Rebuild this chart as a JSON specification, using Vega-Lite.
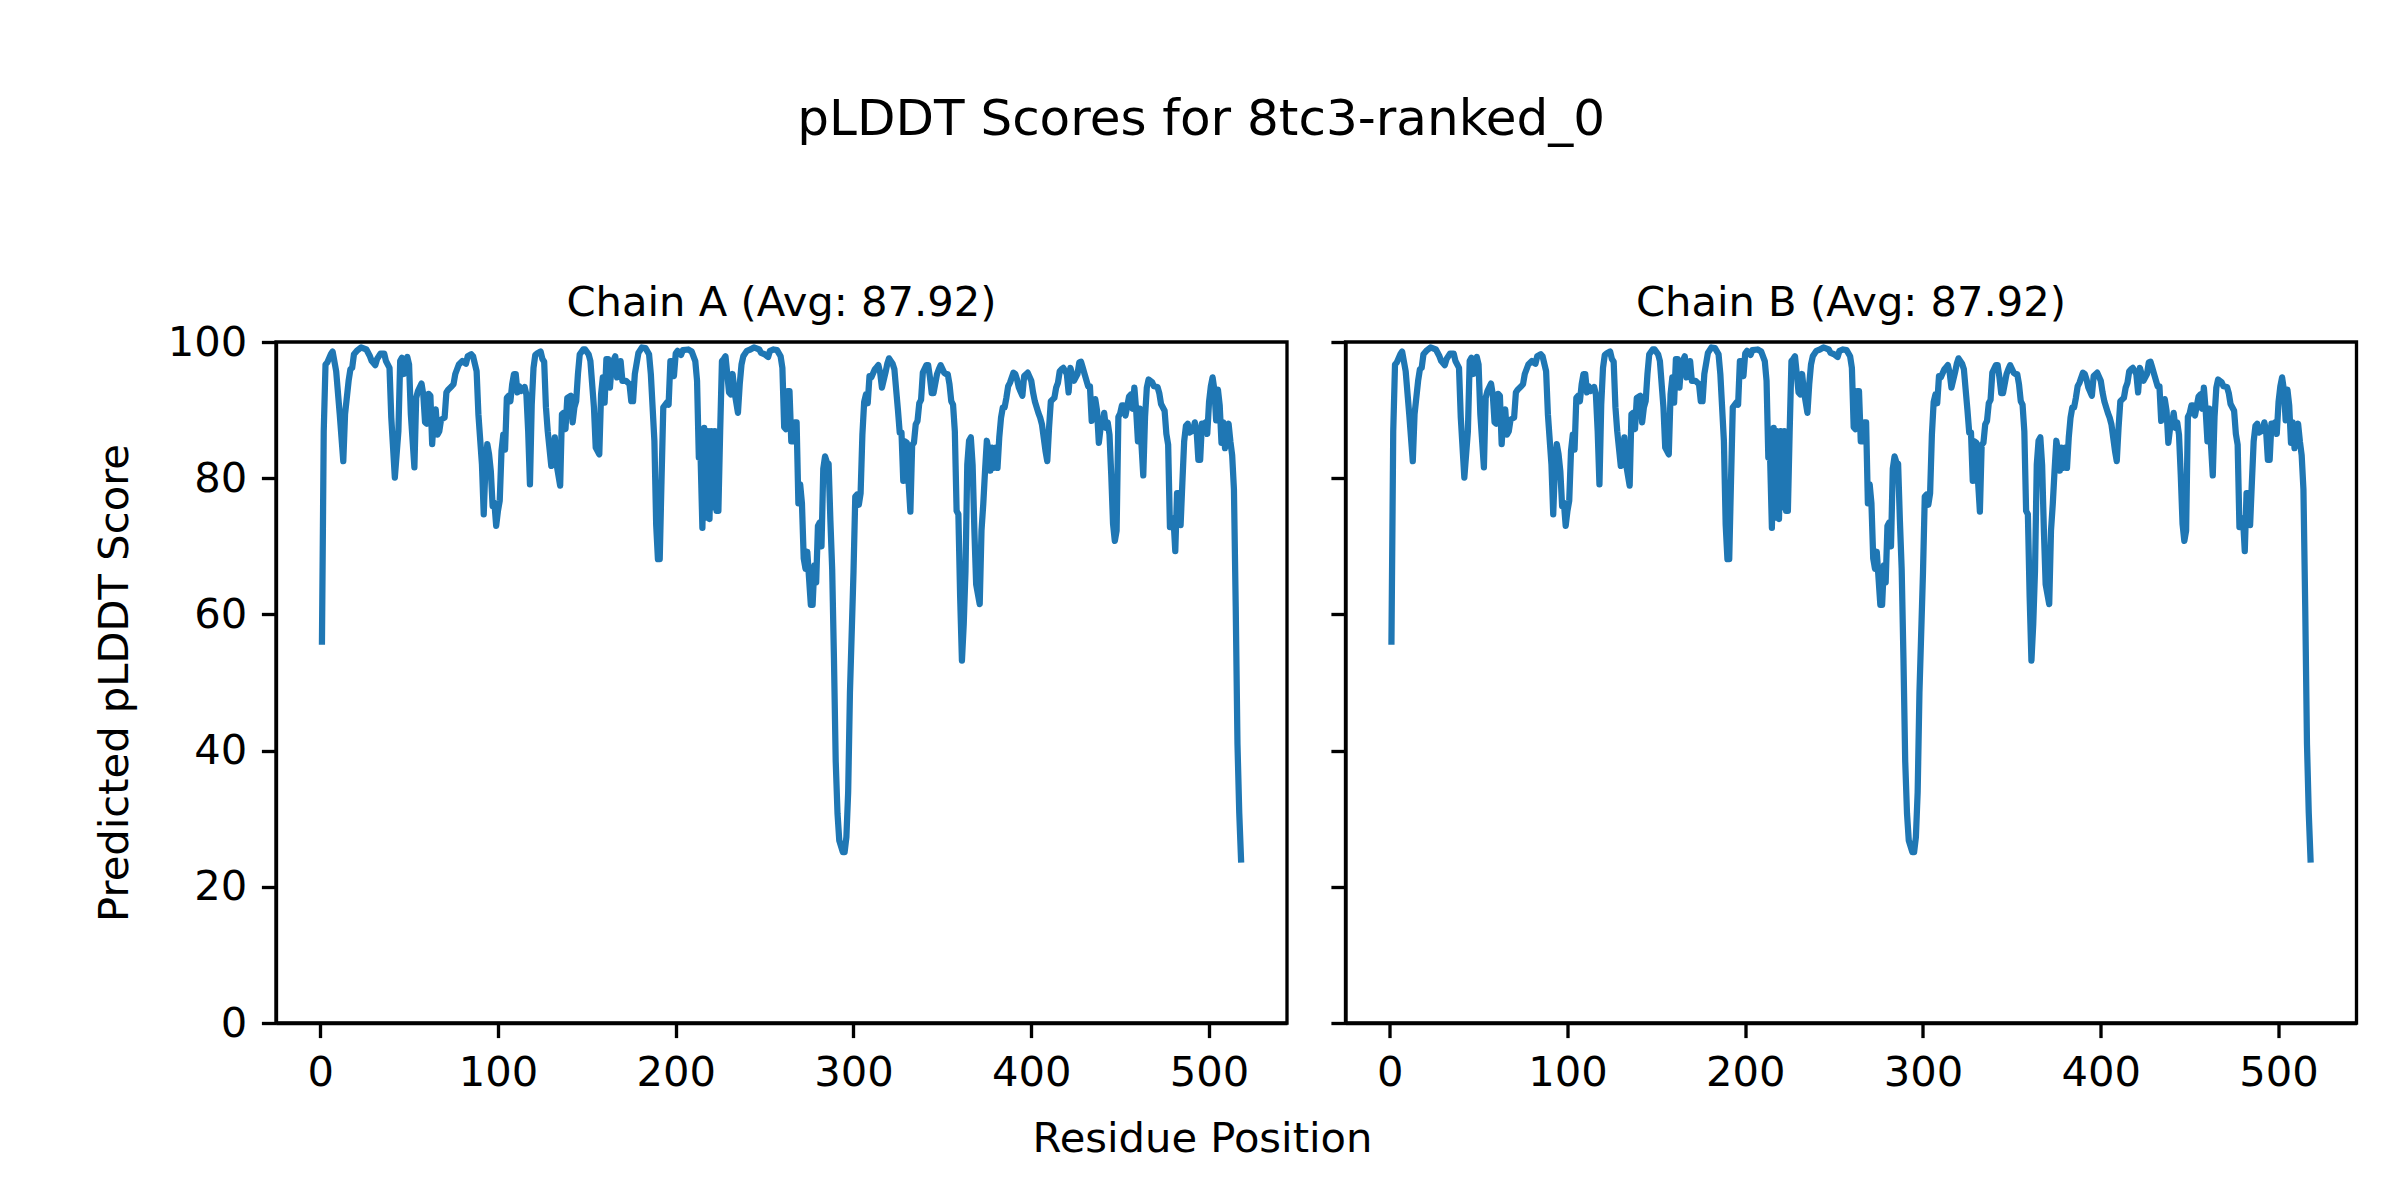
{
"$schema":"https://vega.github.io/schema/vega-lite/v6.json",
"background":"white",
"padding":{"left":92,"top":95,"right":5,"bottom":5},
"title":{"text":"pLDDT Scores for 8tc3-ranked_0","fontSize":50,"font":"DejaVu Sans","fontWeight":"normal","color":"black","anchor":"middle","baseline":"alphabetic","offset":96,"frame":"bounds","dx":-24},
"config":{
"font":"DejaVu Sans",
"view":{"stroke":"black","strokeWidth":3.33},
"axis":{"grid":false,"domainColor":"black","domainWidth":3.33,"tickColor":"black","tickWidth":3.33,"tickSize":14.6,"labelFontSize":41.67,"labelFont":"DejaVu Sans","labelColor":"black","labelPadding":14.6,"labelFlush":false,"labelOverlap":false,"titleFontSize":41.67,"titleFont":"DejaVu Sans","titleFontWeight":"normal","titleColor":"black"},
"title":{"fontSize":41.67,"font":"DejaVu Sans","fontWeight":"normal","color":"black"}
},
"datasets":{
"A":[{"r":1,"v":56},{"r":2,"v":86.9},{"r":3,"v":96.7},{"r":4,"v":97.0},{"r":6,"v":98.2},{"r":7,"v":98.6},{"r":9,"v":95.7},{"r":11,"v":89.4},{"r":13,"v":82.5},{"r":14,"v":89.4},{"r":16,"v":94.3},{"r":17,"v":96.0},{"r":18,"v":96.2},{"r":19,"v":98.2},{"r":21,"v":98.8},{"r":23,"v":99.2},{"r":26,"v":98.9},{"r":28,"v":97.9},{"r":29,"v":97.2},{"r":31,"v":96.6},{"r":32,"v":97.5},{"r":34,"v":98.3},{"r":36,"v":98.3},{"r":37,"v":97.2},{"r":39,"v":96.2},{"r":40,"v":88.9},{"r":42,"v":80.1},{"r":44,"v":86.9},{"r":45,"v":97.2},{"r":46,"v":97.7},{"r":47,"v":95.3},{"r":48,"v":97.2},{"r":49,"v":97.8},{"r":50,"v":96.7},{"r":51,"v":89.4},{"r":53,"v":81.6},{"r":54,"v":91.8},{"r":55,"v":92.8},{"r":57,"v":93.9},{"r":58,"v":92.3},{"r":59,"v":88.2},{"r":60,"v":88.0},{"r":61,"v":92.4},{"r":62,"v":92.1},{"r":63,"v":85.0},{"r":64,"v":89.4},{"r":65,"v":90.1},{"r":66,"v":86.4},{"r":67,"v":86.9},{"r":68,"v":88.6},{"r":70,"v":88.9},{"r":71,"v":92.6},{"r":72,"v":93.0},{"r":74,"v":93.5},{"r":75,"v":93.8},{"r":76,"v":95.3},{"r":78,"v":96.7},{"r":80,"v":97.2},{"r":82,"v":96.8},{"r":83,"v":97.9},{"r":85,"v":98.2},{"r":86,"v":97.9},{"r":88,"v":95.7},{"r":89,"v":89.4},{"r":91,"v":82.0},{"r":92,"v":74.7},{"r":93,"v":82.0},{"r":94,"v":85.0},{"r":95,"v":83.5},{"r":96,"v":81.0},{"r":97,"v":75.9},{"r":98,"v":76.4},{"r":99,"v":73.0},{"r":100,"v":75.2},{"r":101,"v":76.7},{"r":102,"v":84.0},{"r":103,"v":86.4},{"r":104,"v":84.2},{"r":105,"v":91.8},{"r":106,"v":92.1},{"r":107,"v":91.3},{"r":108,"v":93.8},{"r":109,"v":95.3},{"r":110,"v":95.3},{"r":111,"v":92.6},{"r":112,"v":93.5},{"r":113,"v":92.8},{"r":115,"v":93.4},{"r":116,"v":92.3},{"r":117,"v":86.9},{"r":118,"v":79.1},{"r":119,"v":90.8},{"r":120,"v":96.2},{"r":121,"v":98.1},{"r":122,"v":98.3},{"r":124,"v":98.6},{"r":125,"v":97.5},{"r":126,"v":97.1},{"r":127,"v":90.4},{"r":128,"v":86.9},{"r":130,"v":81.8},{"r":131,"v":82.0},{"r":132,"v":86.0},{"r":133,"v":82.0},{"r":135,"v":78.9},{"r":136,"v":89.4},{"r":137,"v":89.6},{"r":138,"v":87.2},{"r":139,"v":91.8},{"r":141,"v":92.1},{"r":142,"v":88.2},{"r":143,"v":90.4},{"r":144,"v":91.3},{"r":145,"v":95.3},{"r":146,"v":98.2},{"r":148,"v":98.9},{"r":149,"v":98.9},{"r":151,"v":98.2},{"r":152,"v":97.2},{"r":154,"v":90.4},{"r":155,"v":84.5},{"r":157,"v":83.5},{"r":158,"v":92.3},{"r":159,"v":94.8},{"r":160,"v":91.1},{"r":161,"v":97.5},{"r":162,"v":97.5},{"r":163,"v":93.3},{"r":164,"v":96.7},{"r":166,"v":97.9},{"r":167,"v":94.8},{"r":168,"v":95.3},{"r":169,"v":97.2},{"r":170,"v":94.3},{"r":172,"v":94.3},{"r":174,"v":93.8},{"r":175,"v":91.3},{"r":176,"v":91.3},{"r":177,"v":95.3},{"r":179,"v":98.4},{"r":181,"v":99.2},{"r":183,"v":99.1},{"r":185,"v":98.2},{"r":186,"v":95.3},{"r":188,"v":85.5},{"r":189,"v":73.2},{"r":190,"v":68.1},{"r":191,"v":68.1},{"r":192,"v":79.6},{"r":193,"v":90.4},{"r":195,"v":91.1},{"r":196,"v":90.8},{"r":197,"v":97.2},{"r":198,"v":97.2},{"r":199,"v":95.0},{"r":200,"v":98.3},{"r":201,"v":98.7},{"r":203,"v":98.1},{"r":204,"v":98.8},{"r":207,"v":98.9},{"r":209,"v":98.6},{"r":211,"v":97.2},{"r":212,"v":94.3},{"r":213,"v":83.0},{"r":214,"v":83.0},{"r":215,"v":72.7},{"r":216,"v":87.4},{"r":217,"v":74.2},{"r":218,"v":86.9},{"r":219,"v":74.0},{"r":220,"v":86.9},{"r":221,"v":75.7},{"r":222,"v":86.9},{"r":223,"v":75.2},{"r":224,"v":75.2},{"r":225,"v":86.9},{"r":226,"v":97.2},{"r":227,"v":97.5},{"r":228,"v":97.9},{"r":229,"v":95.3},{"r":230,"v":92.6},{"r":231,"v":92.3},{"r":232,"v":95.3},{"r":233,"v":92.8},{"r":235,"v":89.6},{"r":236,"v":93.8},{"r":237,"v":96.7},{"r":238,"v":97.9},{"r":240,"v":98.7},{"r":242,"v":98.9},{"r":244,"v":99.2},{"r":247,"v":98.9},{"r":248,"v":98.4},{"r":250,"v":98.2},{"r":252,"v":97.8},{"r":253,"v":98.7},{"r":255,"v":98.9},{"r":257,"v":98.8},{"r":259,"v":97.9},{"r":260,"v":96.2},{"r":261,"v":87.5},{"r":262,"v":87.2},{"r":263,"v":92.8},{"r":264,"v":92.8},{"r":265,"v":85.4},{"r":266,"v":85.4},{"r":267,"v":88.2},{"r":268,"v":88.2},{"r":269,"v":76.3},{"r":270,"v":79.1},{"r":271,"v":76.3},{"r":272,"v":68.2},{"r":273,"v":66.7},{"r":274,"v":69.2},{"r":276,"v":61.4},{"r":277,"v":61.4},{"r":278,"v":67.2},{"r":279,"v":64.7},{"r":280,"v":73.0},{"r":281,"v":73.5},{"r":282,"v":70.0},{"r":283,"v":81.4},{"r":284,"v":83.2},{"r":285,"v":82.4},{"r":286,"v":82.1},{"r":287,"v":73.8},{"r":288,"v":66.7},{"r":289,"v":53.6},{"r":290,"v":38.4},{"r":291,"v":30.8},{"r":292,"v":26.8},{"r":294,"v":25.1},{"r":295,"v":25.1},{"r":296,"v":27.3},{"r":297,"v":33.9},{"r":298,"v":48.5},{"r":300,"v":66.2},{"r":301,"v":77.3},{"r":302,"v":77.6},{"r":303,"v":76.1},{"r":304,"v":77.8},{"r":305,"v":86.4},{"r":306,"v":91.2},{"r":307,"v":92.3},{"r":308,"v":91.0},{"r":309,"v":95.0},{"r":310,"v":94.8},{"r":312,"v":96.0},{"r":313,"v":96.3},{"r":314,"v":96.6},{"r":315,"v":95.5},{"r":316,"v":93.3},{"r":318,"v":95.5},{"r":319,"v":96.8},{"r":320,"v":97.6},{"r":322,"v":96.8},{"r":323,"v":96.0},{"r":324,"v":93.0},{"r":325,"v":90.0},{"r":326,"v":86.7},{"r":327,"v":86.7},{"r":328,"v":79.6},{"r":329,"v":85.4},{"r":330,"v":85.2},{"r":331,"v":79.4},{"r":332,"v":75.1},{"r":333,"v":84.9},{"r":334,"v":85.2},{"r":335,"v":87.9},{"r":336,"v":88.4},{"r":337,"v":91.0},{"r":338,"v":91.5},{"r":339,"v":95.5},{"r":341,"v":96.6},{"r":342,"v":96.6},{"r":343,"v":94.8},{"r":344,"v":92.5},{"r":345,"v":92.5},{"r":347,"v":95.3},{"r":348,"v":96.0},{"r":349,"v":96.6},{"r":351,"v":95.5},{"r":352,"v":95.3},{"r":353,"v":95.3},{"r":354,"v":93.8},{"r":355,"v":91.3},{"r":356,"v":90.8},{"r":357,"v":86.9},{"r":358,"v":75.2},{"r":359,"v":74.7},{"r":360,"v":62.5},{"r":361,"v":53.2},{"r":362,"v":58.5},{"r":363,"v":66.4},{"r":364,"v":82.0},{"r":365,"v":85.5},{"r":366,"v":86.0},{"r":367,"v":82.0},{"r":368,"v":72.3},{"r":369,"v":64.4},{"r":371,"v":61.5},{"r":372,"v":72.3},{"r":373,"v":76.2},{"r":374,"v":81.1},{"r":375,"v":85.5},{"r":376,"v":84.0},{"r":377,"v":81.1},{"r":378,"v":84.5},{"r":379,"v":81.5},{"r":380,"v":84.5},{"r":381,"v":81.5},{"r":382,"v":86.0},{"r":383,"v":88.9},{"r":384,"v":90.4},{"r":385,"v":90.4},{"r":386,"v":91.8},{"r":387,"v":93.5},{"r":388,"v":94.0},{"r":390,"v":95.5},{"r":391,"v":95.3},{"r":392,"v":94.5},{"r":393,"v":93.3},{"r":395,"v":92.1},{"r":396,"v":95.0},{"r":398,"v":95.5},{"r":400,"v":94.3},{"r":401,"v":92.6},{"r":402,"v":91.3},{"r":404,"v":89.6},{"r":405,"v":88.9},{"r":406,"v":87.9},{"r":408,"v":84.0},{"r":409,"v":82.5},{"r":410,"v":87.4},{"r":411,"v":91.3},{"r":413,"v":91.8},{"r":414,"v":93.3},{"r":415,"v":94.0},{"r":416,"v":95.7},{"r":417,"v":96.0},{"r":418,"v":96.2},{"r":420,"v":95.3},{"r":421,"v":92.6},{"r":422,"v":96.2},{"r":423,"v":95.3},{"r":424,"v":94.3},{"r":426,"v":95.3},{"r":427,"v":97.0},{"r":428,"v":97.1},{"r":429,"v":96.2},{"r":430,"v":95.3},{"r":432,"v":93.5},{"r":433,"v":93.5},{"r":434,"v":88.4},{"r":435,"v":89.9},{"r":436,"v":91.6},{"r":437,"v":89.9},{"r":438,"v":85.2},{"r":439,"v":87.4},{"r":440,"v":87.9},{"r":441,"v":89.6},{"r":442,"v":87.4},{"r":443,"v":88.2},{"r":444,"v":86.4},{"r":445,"v":80.4},{"r":446,"v":73.3},{"r":447,"v":70.8},{"r":448,"v":72.3},{"r":449,"v":89.0},{"r":450,"v":89.5},{"r":451,"v":90.7},{"r":452,"v":90.7},{"r":453,"v":89.2},{"r":455,"v":92.0},{"r":456,"v":92.3},{"r":457,"v":90.2},{"r":458,"v":93.3},{"r":459,"v":90.0},{"r":460,"v":85.4},{"r":461,"v":90.2},{"r":462,"v":84.9},{"r":463,"v":80.4},{"r":464,"v":89.0},{"r":465,"v":93.3},{"r":466,"v":94.5},{"r":468,"v":94.1},{"r":469,"v":93.5},{"r":471,"v":93.4},{"r":472,"v":92.5},{"r":473,"v":90.9},{"r":475,"v":89.9},{"r":476,"v":86.5},{"r":477,"v":84.9},{"r":478,"v":72.8},{"r":480,"v":74.1},{"r":481,"v":69.3},{"r":482,"v":77.8},{"r":483,"v":77.8},{"r":484,"v":73.1},{"r":485,"v":79.4},{"r":486,"v":85.4},{"r":487,"v":87.7},{"r":488,"v":88.0},{"r":489,"v":86.7},{"r":491,"v":87.0},{"r":492,"v":88.2},{"r":493,"v":87.0},{"r":494,"v":82.7},{"r":495,"v":82.7},{"r":496,"v":88.0},{"r":497,"v":88.0},{"r":498,"v":88.2},{"r":499,"v":86.5},{"r":500,"v":91.2},{"r":501,"v":93.5},{"r":502,"v":94.8},{"r":503,"v":93.0},{"r":504,"v":88.5},{"r":505,"v":93.0},{"r":506,"v":90.7},{"r":507,"v":85.2},{"r":508,"v":88.2},{"r":509,"v":84.4},{"r":510,"v":87.0},{"r":511,"v":88.0},{"r":512,"v":85.4},{"r":513,"v":83.4},{"r":514,"v":78.4},{"r":515,"v":61.2},{"r":516,"v":40.9},{"r":517,"v":30.8},{"r":518,"v":24.0}],
"B":[{"r":1,"v":56},{"r":2,"v":86.9},{"r":3,"v":96.7},{"r":4,"v":97.0},{"r":6,"v":98.2},{"r":7,"v":98.6},{"r":9,"v":95.7},{"r":11,"v":89.4},{"r":13,"v":82.5},{"r":14,"v":89.4},{"r":16,"v":94.3},{"r":17,"v":96.0},{"r":18,"v":96.2},{"r":19,"v":98.2},{"r":21,"v":98.8},{"r":23,"v":99.2},{"r":26,"v":98.9},{"r":28,"v":97.9},{"r":29,"v":97.2},{"r":31,"v":96.6},{"r":32,"v":97.5},{"r":34,"v":98.3},{"r":36,"v":98.3},{"r":37,"v":97.2},{"r":39,"v":96.2},{"r":40,"v":88.9},{"r":42,"v":80.1},{"r":44,"v":86.9},{"r":45,"v":97.2},{"r":46,"v":97.7},{"r":47,"v":95.3},{"r":48,"v":97.2},{"r":49,"v":97.8},{"r":50,"v":96.7},{"r":51,"v":89.4},{"r":53,"v":81.6},{"r":54,"v":91.8},{"r":55,"v":92.8},{"r":57,"v":93.9},{"r":58,"v":92.3},{"r":59,"v":88.2},{"r":60,"v":88.0},{"r":61,"v":92.4},{"r":62,"v":92.1},{"r":63,"v":85.0},{"r":64,"v":89.4},{"r":65,"v":90.1},{"r":66,"v":86.4},{"r":67,"v":86.9},{"r":68,"v":88.6},{"r":70,"v":88.9},{"r":71,"v":92.6},{"r":72,"v":93.0},{"r":74,"v":93.5},{"r":75,"v":93.8},{"r":76,"v":95.3},{"r":78,"v":96.7},{"r":80,"v":97.2},{"r":82,"v":96.8},{"r":83,"v":97.9},{"r":85,"v":98.2},{"r":86,"v":97.9},{"r":88,"v":95.7},{"r":89,"v":89.4},{"r":91,"v":82.0},{"r":92,"v":74.7},{"r":93,"v":82.0},{"r":94,"v":85.0},{"r":95,"v":83.5},{"r":96,"v":81.0},{"r":97,"v":75.9},{"r":98,"v":76.4},{"r":99,"v":73.0},{"r":100,"v":75.2},{"r":101,"v":76.7},{"r":102,"v":84.0},{"r":103,"v":86.4},{"r":104,"v":84.2},{"r":105,"v":91.8},{"r":106,"v":92.1},{"r":107,"v":91.3},{"r":108,"v":93.8},{"r":109,"v":95.3},{"r":110,"v":95.3},{"r":111,"v":92.6},{"r":112,"v":93.5},{"r":113,"v":92.8},{"r":115,"v":93.4},{"r":116,"v":92.3},{"r":117,"v":86.9},{"r":118,"v":79.1},{"r":119,"v":90.8},{"r":120,"v":96.2},{"r":121,"v":98.1},{"r":122,"v":98.3},{"r":124,"v":98.6},{"r":125,"v":97.5},{"r":126,"v":97.1},{"r":127,"v":90.4},{"r":128,"v":86.9},{"r":130,"v":81.8},{"r":131,"v":82.0},{"r":132,"v":86.0},{"r":133,"v":82.0},{"r":135,"v":78.9},{"r":136,"v":89.4},{"r":137,"v":89.6},{"r":138,"v":87.2},{"r":139,"v":91.8},{"r":141,"v":92.1},{"r":142,"v":88.2},{"r":143,"v":90.4},{"r":144,"v":91.3},{"r":145,"v":95.3},{"r":146,"v":98.2},{"r":148,"v":98.9},{"r":149,"v":98.9},{"r":151,"v":98.2},{"r":152,"v":97.2},{"r":154,"v":90.4},{"r":155,"v":84.5},{"r":157,"v":83.5},{"r":158,"v":92.3},{"r":159,"v":94.8},{"r":160,"v":91.1},{"r":161,"v":97.5},{"r":162,"v":97.5},{"r":163,"v":93.3},{"r":164,"v":96.7},{"r":166,"v":97.9},{"r":167,"v":94.8},{"r":168,"v":95.3},{"r":169,"v":97.2},{"r":170,"v":94.3},{"r":172,"v":94.3},{"r":174,"v":93.8},{"r":175,"v":91.3},{"r":176,"v":91.3},{"r":177,"v":95.3},{"r":179,"v":98.4},{"r":181,"v":99.2},{"r":183,"v":99.1},{"r":185,"v":98.2},{"r":186,"v":95.3},{"r":188,"v":85.5},{"r":189,"v":73.2},{"r":190,"v":68.1},{"r":191,"v":68.1},{"r":192,"v":79.6},{"r":193,"v":90.4},{"r":195,"v":91.1},{"r":196,"v":90.8},{"r":197,"v":97.2},{"r":198,"v":97.2},{"r":199,"v":95.0},{"r":200,"v":98.3},{"r":201,"v":98.7},{"r":203,"v":98.1},{"r":204,"v":98.8},{"r":207,"v":98.9},{"r":209,"v":98.6},{"r":211,"v":97.2},{"r":212,"v":94.3},{"r":213,"v":83.0},{"r":214,"v":83.0},{"r":215,"v":72.7},{"r":216,"v":87.4},{"r":217,"v":74.2},{"r":218,"v":86.9},{"r":219,"v":74.0},{"r":220,"v":86.9},{"r":221,"v":75.7},{"r":222,"v":86.9},{"r":223,"v":75.2},{"r":224,"v":75.2},{"r":225,"v":86.9},{"r":226,"v":97.2},{"r":227,"v":97.5},{"r":228,"v":97.9},{"r":229,"v":95.3},{"r":230,"v":92.6},{"r":231,"v":92.3},{"r":232,"v":95.3},{"r":233,"v":92.8},{"r":235,"v":89.6},{"r":236,"v":93.8},{"r":237,"v":96.7},{"r":238,"v":97.9},{"r":240,"v":98.7},{"r":242,"v":98.9},{"r":244,"v":99.2},{"r":247,"v":98.9},{"r":248,"v":98.4},{"r":250,"v":98.2},{"r":252,"v":97.8},{"r":253,"v":98.7},{"r":255,"v":98.9},{"r":257,"v":98.8},{"r":259,"v":97.9},{"r":260,"v":96.2},{"r":261,"v":87.5},{"r":262,"v":87.2},{"r":263,"v":92.8},{"r":264,"v":92.8},{"r":265,"v":85.4},{"r":266,"v":85.4},{"r":267,"v":88.2},{"r":268,"v":88.2},{"r":269,"v":76.3},{"r":270,"v":79.1},{"r":271,"v":76.3},{"r":272,"v":68.2},{"r":273,"v":66.7},{"r":274,"v":69.2},{"r":276,"v":61.4},{"r":277,"v":61.4},{"r":278,"v":67.2},{"r":279,"v":64.7},{"r":280,"v":73.0},{"r":281,"v":73.5},{"r":282,"v":70.0},{"r":283,"v":81.4},{"r":284,"v":83.2},{"r":285,"v":82.4},{"r":286,"v":82.1},{"r":287,"v":73.8},{"r":288,"v":66.7},{"r":289,"v":53.6},{"r":290,"v":38.4},{"r":291,"v":30.8},{"r":292,"v":26.8},{"r":294,"v":25.1},{"r":295,"v":25.1},{"r":296,"v":27.3},{"r":297,"v":33.9},{"r":298,"v":48.5},{"r":300,"v":66.2},{"r":301,"v":77.3},{"r":302,"v":77.6},{"r":303,"v":76.1},{"r":304,"v":77.8},{"r":305,"v":86.4},{"r":306,"v":91.2},{"r":307,"v":92.3},{"r":308,"v":91.0},{"r":309,"v":95.0},{"r":310,"v":94.8},{"r":312,"v":96.0},{"r":313,"v":96.3},{"r":314,"v":96.6},{"r":315,"v":95.5},{"r":316,"v":93.3},{"r":318,"v":95.5},{"r":319,"v":96.8},{"r":320,"v":97.6},{"r":322,"v":96.8},{"r":323,"v":96.0},{"r":324,"v":93.0},{"r":325,"v":90.0},{"r":326,"v":86.7},{"r":327,"v":86.7},{"r":328,"v":79.6},{"r":329,"v":85.4},{"r":330,"v":85.2},{"r":331,"v":79.4},{"r":332,"v":75.1},{"r":333,"v":84.9},{"r":334,"v":85.2},{"r":335,"v":87.9},{"r":336,"v":88.4},{"r":337,"v":91.0},{"r":338,"v":91.5},{"r":339,"v":95.5},{"r":341,"v":96.6},{"r":342,"v":96.6},{"r":343,"v":94.8},{"r":344,"v":92.5},{"r":345,"v":92.5},{"r":347,"v":95.3},{"r":348,"v":96.0},{"r":349,"v":96.6},{"r":351,"v":95.5},{"r":352,"v":95.3},{"r":353,"v":95.3},{"r":354,"v":93.8},{"r":355,"v":91.3},{"r":356,"v":90.8},{"r":357,"v":86.9},{"r":358,"v":75.2},{"r":359,"v":74.7},{"r":360,"v":62.5},{"r":361,"v":53.2},{"r":362,"v":58.5},{"r":363,"v":66.4},{"r":364,"v":82.0},{"r":365,"v":85.5},{"r":366,"v":86.0},{"r":367,"v":82.0},{"r":368,"v":72.3},{"r":369,"v":64.4},{"r":371,"v":61.5},{"r":372,"v":72.3},{"r":373,"v":76.2},{"r":374,"v":81.1},{"r":375,"v":85.5},{"r":376,"v":84.0},{"r":377,"v":81.1},{"r":378,"v":84.5},{"r":379,"v":81.5},{"r":380,"v":84.5},{"r":381,"v":81.5},{"r":382,"v":86.0},{"r":383,"v":88.9},{"r":384,"v":90.4},{"r":385,"v":90.4},{"r":386,"v":91.8},{"r":387,"v":93.5},{"r":388,"v":94.0},{"r":390,"v":95.5},{"r":391,"v":95.3},{"r":392,"v":94.5},{"r":393,"v":93.3},{"r":395,"v":92.1},{"r":396,"v":95.0},{"r":398,"v":95.5},{"r":400,"v":94.3},{"r":401,"v":92.6},{"r":402,"v":91.3},{"r":404,"v":89.6},{"r":405,"v":88.9},{"r":406,"v":87.9},{"r":408,"v":84.0},{"r":409,"v":82.5},{"r":410,"v":87.4},{"r":411,"v":91.3},{"r":413,"v":91.8},{"r":414,"v":93.3},{"r":415,"v":94.0},{"r":416,"v":95.7},{"r":417,"v":96.0},{"r":418,"v":96.2},{"r":420,"v":95.3},{"r":421,"v":92.6},{"r":422,"v":96.2},{"r":423,"v":95.3},{"r":424,"v":94.3},{"r":426,"v":95.3},{"r":427,"v":97.0},{"r":428,"v":97.1},{"r":429,"v":96.2},{"r":430,"v":95.3},{"r":432,"v":93.5},{"r":433,"v":93.5},{"r":434,"v":88.4},{"r":435,"v":89.9},{"r":436,"v":91.6},{"r":437,"v":89.9},{"r":438,"v":85.2},{"r":439,"v":87.4},{"r":440,"v":87.9},{"r":441,"v":89.6},{"r":442,"v":87.4},{"r":443,"v":88.2},{"r":444,"v":86.4},{"r":445,"v":80.4},{"r":446,"v":73.3},{"r":447,"v":70.8},{"r":448,"v":72.3},{"r":449,"v":89.0},{"r":450,"v":89.5},{"r":451,"v":90.7},{"r":452,"v":90.7},{"r":453,"v":89.2},{"r":455,"v":92.0},{"r":456,"v":92.3},{"r":457,"v":90.2},{"r":458,"v":93.3},{"r":459,"v":90.0},{"r":460,"v":85.4},{"r":461,"v":90.2},{"r":462,"v":84.9},{"r":463,"v":80.4},{"r":464,"v":89.0},{"r":465,"v":93.3},{"r":466,"v":94.5},{"r":468,"v":94.1},{"r":469,"v":93.5},{"r":471,"v":93.4},{"r":472,"v":92.5},{"r":473,"v":90.9},{"r":475,"v":89.9},{"r":476,"v":86.5},{"r":477,"v":84.9},{"r":478,"v":72.8},{"r":480,"v":74.1},{"r":481,"v":69.3},{"r":482,"v":77.8},{"r":483,"v":77.8},{"r":484,"v":73.1},{"r":485,"v":79.4},{"r":486,"v":85.4},{"r":487,"v":87.7},{"r":488,"v":88.0},{"r":489,"v":86.7},{"r":491,"v":87.0},{"r":492,"v":88.2},{"r":493,"v":87.0},{"r":494,"v":82.7},{"r":495,"v":82.7},{"r":496,"v":88.0},{"r":497,"v":88.0},{"r":498,"v":88.2},{"r":499,"v":86.5},{"r":500,"v":91.2},{"r":501,"v":93.5},{"r":502,"v":94.8},{"r":503,"v":93.0},{"r":504,"v":88.5},{"r":505,"v":93.0},{"r":506,"v":90.7},{"r":507,"v":85.2},{"r":508,"v":88.2},{"r":509,"v":84.4},{"r":510,"v":87.0},{"r":511,"v":88.0},{"r":512,"v":85.4},{"r":513,"v":83.4},{"r":514,"v":78.4},{"r":515,"v":61.2},{"r":516,"v":40.9},{"r":517,"v":30.8},{"r":518,"v":24.0}]
},
"spacing":58.5,
"bounds":"flush",
"hconcat":[
{
"width":1011,"height":681,
"data":{"name":"A"},
"title":{"text":"Chain A (Avg: 87.92)","anchor":"middle","frame":"group","baseline":"alphabetic","offset":-36},
"mark":{"type":"line","color":"#1f77b4","strokeWidth":6.25,"strokeCap":"square","strokeJoin":"round"},
"encoding":{
"x":{"field":"r","type":"quantitative","scale":{"domain":[-24.85,543.85],"nice":false,"zero":false},"axis":{"values":[0,100,200,300,400,500],"title":"Residue Position","titleX":926,"titleY":128,"titleBaseline":"alphabetic","titleAlign":"center","titleAnchor":"start"}},
"y":{"field":"v","type":"quantitative","scale":{"domain":[0,100],"nice":false,"zero":false},"axis":{"values":[0,20,40,60,80,100],"title":"Predicted pLDDT Score","titleX":-149,"titleY":340.5,"titleAngle":-90,"titleBaseline":"alphabetic","titleAlign":"center","titleAnchor":"start"}}
}
},
{
"width":1011,"height":681,
"data":{"name":"B"},
"title":{"text":"Chain B (Avg: 87.92)","anchor":"middle","frame":"group","baseline":"alphabetic","offset":-17},
"mark":{"type":"line","color":"#1f77b4","strokeWidth":6.25,"strokeCap":"square","strokeJoin":"round"},
"encoding":{
"x":{"field":"r","type":"quantitative","scale":{"domain":[-24.85,543.85],"nice":false,"zero":false},"axis":{"values":[0,100,200,300,400,500],"title":null}},
"y":{"field":"v","type":"quantitative","scale":{"domain":[0,100],"nice":false,"zero":false},"axis":{"values":[0,20,40,60,80,100],"title":null,"labels":false}}
}
}
]
}
